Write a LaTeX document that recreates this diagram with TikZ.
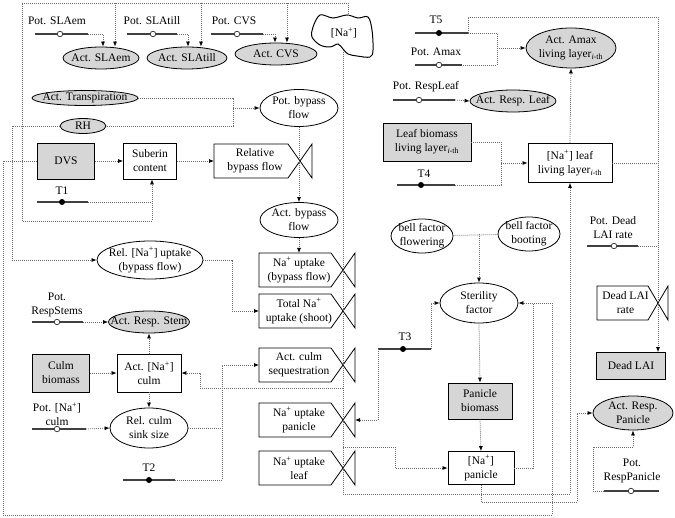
\documentclass[tikz,border=0pt]{standalone}
\usepackage{fontspec}
\setmainfont{Liberation Serif}
\usetikzlibrary{arrows.meta,shapes.geometric}
\definecolor{gfill}{HTML}{D6D6D6}
\definecolor{dline}{HTML}{6E6E6E}
\definecolor{sline}{HTML}{404040}
\tikzset{
 txt/.style={align=center,inner sep=0pt,font=\fontsize{11.5}{14}\selectfont},
 bx/.style={draw=black,line width=0.8pt,rectangle,inner sep=0pt,align=center,font=\fontsize{11.5}{14}\selectfont},
 gbx/.style={bx,fill=gfill},
 el/.style={draw=black,line width=0.8pt,ellipse,inner sep=0pt},
 gel/.style={el,fill=gfill},
 dl/.style={draw=dline,line width=0.75pt,dash pattern=on 0.9pt off 1.1pt},
 ar/.style={dl,-{Latex[length=5pt,width=4pt,color=black]}},
 cv/.style={draw=sline,line width=1.1pt},
 vl/.style={draw=black,line width=0.8pt,line join=miter},
 oc/.style={circle,draw=sline,fill=white,line width=0.8pt,inner sep=0pt,minimum size=5.5pt},
 fc/.style={circle,fill=black,inner sep=0pt,minimum size=6pt},
}
\newcommand{\ellip}[6]{\node[#1,minimum width=#4,minimum height=#5] (#2) at (#3) {};\node[txt] (#2-t) at (#2) {#6};}
\newcommand{\valve}[6]{%
 \draw[vl] (#2,#4-17) -- (#3-#5,#4-17) -- (#3+#5,#4+17) -- (#3+#5,#4-17) -- (#3-#5,#4+17) -- (#2,#4+17) -- cycle;
 \node[txt] (#1) at ({(#2+#3)/2-2},#4) {#6};
 \coordinate (#1-l) at (#2,#4);
 \coordinate (#1-c) at (#3,#4);
 \coordinate (#1-r) at (#3+#5,#4);
 \coordinate (#1-t) at ({(#2+#3)/2-2},#4-17);}
\newcommand{\conv}[6]{%
 \draw[cv] (#2,#4) -- (#3,#4);
 \coordinate (#1-w) at (#2,#4); \coordinate (#1-e) at (#3,#4);
 \node[#6] (#1-m) at (#5,#4) {};}
\begin{document}
\begin{tikzpicture}[x=1pt,y=-1pt]
\useasboundingbox (0,0) rectangle (675,518);
\fill[white] (0,0) rectangle (675,518);

% ---------- nodes ----------
\node[txt] (pSLAem) at (57,21) {Pot. SLAem};
\conv{pSLAem}{35}{88}{34}{60}{oc}
\node[txt] (pSLAtill) at (152,21) {Pot. SLAtill};
\conv{pSLAtill}{127}{177}{34}{153}{oc}
\node[txt] (pCVS) at (234,21) {Pot. CVS};
\conv{pCVS}{211}{263}{34}{237}{oc}

\ellip{gel}{aSLAem}{101,58}{76}{22}{Act. SLAem}
\ellip{gel}{aSLAtill}{187,58}{80}{22}{Act. SLAtill}
\ellip{gel}{aCVS}{276,54}{82}{22}{Act. CVS}

\draw[vl,line width=1pt] plot[smooth cycle,tension=0.55] coordinates {(320,15) (333,18) (347,15) (358,18) (368,17) (372,30) (373,50) (370,57) (357,56) (348,54) (343,49) (338,44) (330,47) (320,45) (312,37) (313,27)};
\node[txt] (na) at (344,33) {[Na\textsuperscript{+}]};
\coordinate (naTop) at (348,16);
\coordinate (naBot) at (343,50);

\ellip{gel}{aTransp}{85,98}{106}{15}{Act. Transpiration}
\ellip{gel}{rh}{83,126}{46}{15}{RH}
\node[gbx,minimum width=57,minimum height=36] (dvs) at (66,161) {DVS};
\node[bx,minimum width=53,minimum height=36] (sub) at (150,161) {Suberin\\content};
\node[txt] (t1) at (62,191) {T1};
\conv{t1}{37}{88}{202}{62}{fc}

\ellip{el}{pBy}{299,108}{78}{37}{Pot. bypass\\flow}
\valve{relBy}{214}{300}{161}{12}{Relative\\bypass flow}
\ellip{el}{aBy}{299,220}{78}{35}{Act. bypass\\flow}
\valve{naUpBy}{259}{343}{270}{12}{Na\textsuperscript{+} uptake\\(bypass flow)}
\valve{totNa}{259}{343}{311}{12}{Total Na\textsuperscript{+}\\uptake (shoot)}
\valve{culmSeq}{259}{343}{365}{12}{Act. culm\\sequestration}
\valve{naUpPan}{259}{343}{420}{12}{Na\textsuperscript{+} uptake\\panicle}
\valve{naUpLeaf}{259}{343}{468}{12}{Na\textsuperscript{+} uptake\\leaf}

\ellip{el}{relNa}{150,260}{106}{38}{Rel. [Na\textsuperscript{+}] uptake\\(bypass flow)}
\node[txt] (pRS) at (57,305) {Pot.\\RespStems};
\conv{pRS}{32}{83}{322}{57}{oc}
\ellip{gel}{aRS}{149,322}{81}{22}{Act. Resp. Stem}
\node[gbx,minimum width=57,minimum height=38] (culmB) at (61,373) {Culm\\biomass};
\node[bx,minimum width=64,minimum height=38] (aNaC) at (149,373) {Act. [Na\textsuperscript{+}]\\culm};
\node[txt] (pNaC) at (57,414) {Pot. [Na\textsuperscript{+}]\\culm};
\conv{pNaC}{32}{86}{429}{57}{oc}
\ellip{el}{relC}{149,428}{78}{40}{Rel. culm\\sink size}
\node[txt] (t2) at (149,468) {T2};
\conv{t2}{123}{175}{480}{149}{fc}

\node[txt] (t5) at (436,20) {T5};
\conv{t5}{415}{468}{33}{439}{fc}
\node[txt] (pAmax) at (436,52) {Pot. Amax};
\conv{pAmax}{415}{462}{65}{439}{oc}
\ellip{gel}{aAmax}{571,48}{90}{40}{Act. Amax\\living layer\textsubscript{\textit{i}-th}}
\node[txt] (pRL) at (426,87) {Pot. RespLeaf};
\conv{pRL}{393}{455}{100}{419}{oc}
\ellip{gel}{aRL}{513,101}{86}{22}{Act. Resp. Leaf}
\node[gbx,minimum width=88,minimum height=38] (leafB) at (427,142) {Leaf biomass\\living layer\textsubscript{\textit{i}-th}};
\node[txt] (t4) at (424,174) {T4};
\conv{t4}{397}{455}{185}{421}{fc}
\node[bx,minimum width=84,minimum height=39] (naL) at (570,163) {[Na\textsuperscript{+}] leaf\\living layer\textsubscript{\textit{i}-th}};
\node[txt] (pDL) at (613,228) {Pot. Dead\\LAI rate};
\conv{pDL}{587}{638}{246}{614}{oc}
\ellip{el}{bellF}{422,236}{62}{34}{bell factor\\flowering}
\ellip{el}{bellB}{529,234}{62}{34}{bell factor\\booting}
\ellip{el}{ster}{479,303}{78}{40}{Sterility\\factor}
\valve{dRate}{597}{658}{303}{10}{Dead LAI\\rate}
\node[gbx,minimum width=69,minimum height=27] (dLAI) at (631,366) {Dead LAI};
\node[txt] (t3) at (405,337) {T3};
\conv{t3}{378}{431}{349}{403}{fc}
\node[gbx,minimum width=64,minimum height=36] (panB) at (480,401) {Panicle\\biomass};
\node[bx,minimum width=66,minimum height=33] (naP) at (481,468) {[Na\textsuperscript{+}]\\panicle};
\ellip{gel}{aRP}{633,413}{80}{34}{Act. Resp.\\Panicle}
\node[txt] (pRP) at (632,471) {Pot.\\RespPanicle};
\conv{pRP}{604}{659}{491}{631}{oc}

% ---------- connectors ----------
\draw[ar] (pSLAem-e) -| ([xshift=2]aSLAem.north);
\draw[ar] (pSLAtill-e) -| ([xshift=1]aSLAtill.north);
\draw[ar] (pCVS-e) -| ([xshift=-1]aCVS.north);
\draw[ar] (naTop) |- (22,3) -- (22,221) -| ([xshift=2]sub.south);
\coordinate (j1) at (115,3); \coordinate (j2) at (201,3); \coordinate (j3) at (287,3);
\draw[ar] (j1) -- ([xshift=14]aSLAem.north);
\draw[ar] (j2) -- ([xshift=14]aSLAtill.north);
\draw[ar] (j3) -- ([xshift=11]aCVS.north);
\draw[dl] (t1-e) -- (152,202);

\draw[dl] (aTransp.east) -- (233,98) -- (233,126) -- (rh.east);
\draw[ar] (233,108) -- (pBy.west);
\draw[ar] (rh.west) -| (12,260) -- (relNa.west);
\draw[ar] (dvs.west) -| (3,515) -| (552,303) -- (ster.east);
\draw[ar] (dvs) -- (sub);
\draw[ar] (sub.east) -- (relBy-l);
\draw[ar] (pBy.south) -- (aBy.north);
\draw[ar] (aBy.south) -- (naUpBy-t);
\draw[ar] (relNa.east) -- (232,260) |- (totNa-l);
\draw[ar] (pRS-e) -- (aRS.west);
\draw[ar] (aNaC.north) -- (aRS.south);
\draw[ar] (culmB) -- (aNaC);
\draw[ar] (aNaC.south) -- (relC.north);
\draw[ar] (pNaC-e) -- (relC.west);
\draw[dl] (relC.east) -- (222,428);
\draw[ar] (t2-e) -| (222,365) -- (culmSeq-l);
\draw[ar] (343,388) -- (200,388) |- (aNaC.east);
\draw[ar] (naBot) -- (343,494) -| (naL.south);
\draw[ar] (naL.north) -- (aAmax.south);
\draw[ar] (343,447) -| (395,468) -- (naP.west);
\draw[ar] (t3-w) |- (naUpPan-r);
\draw[ar] (t3-e) |- (ster.west);
\draw[dl] (bellF) -- (bellB);
\draw[ar] (479,234) -- (ster.north);
\draw[ar] (ster.south) -- (panB.north);
\draw[ar] (panB.south) -- (naP.north);
\draw[dl] (naP.east) -| (533,303);
\draw[ar] (naP.south) |- (577,502) |- (aRP.west);
\draw[ar] (pRP-w) -| (593,447) -| (aRP.south);
\draw[dl] (t5-e) -| (497,65) -- (pAmax-e);
\draw[ar] (497,48) -- (aAmax.west);
\draw[ar] (t5-e) |- (658,17) -- ([xshift=27]dLAI.north);
\draw[dl] (naL.east) -- (658,163);
\draw[dl] (pDL-e) -- (658,246);
\draw[ar] (pRL-e) -- (aRL.west);
\draw[dl] (leafB.east) -| (501,185) -- (t4-e);
\draw[ar] (501,163) -- (naL.west);
\end{tikzpicture}
\end{document}
